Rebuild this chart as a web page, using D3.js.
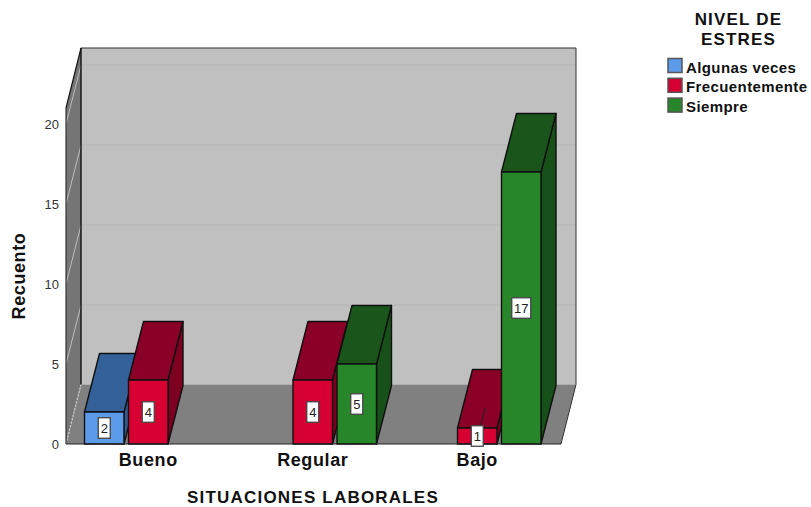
<!DOCTYPE html>
<html>
<head>
<meta charset="utf-8">
<script src="https://cdn.jsdelivr.net/npm/d3@7/dist/d3.min.js"></script>
<style>
  html, body { margin: 0; padding: 0; background: #fff; }
  svg { display: block; font-family: "Liberation Sans", Arial, sans-serif; }
</style>
</head>
<body>
<svg id="chart" width="811" height="507"></svg>
<script>
const categories = ["Bueno", "Regular", "Bajo"];
const seriesNames = ["Algunas veces", "Frecuentemente", "Siempre"];
const algunasVeces = [2, null, null];
const frecuentemente = [4, 4, 1];
const siempre = [null, 5, 17];
const yTicks = [0, 5, 10, 15, 20];
const legendTitle = ["NIVEL DE", "ESTRES"];
const xTitle = "SITUACIONES LABORALES";
const yTitle = "Recuento";

const seriesValues = [algunasVeces, frecuentemente, siempre];
const palette = [
  { front: "#5b9bea", top: "#34619a", side: "#2f5a92" },
  { front: "#d70033", top: "#8a0026", side: "#7d0020" },
  { front: "#28862a", top: "#1a561b", side: "#175018" }
];

// Oblique projection: depth shifts every point right and up.
const depthX = 15, depthY = 59, barDepthY = 58.5;
const plotLeft = 66, plotRight = 561, floorY = 444, roofY = 48;
const floorBackY = floorY - depthY - 0.5;

const svg = d3.select("#chart");
const x = d3.scaleBand().domain(categories).range([66, 559.5]);
const y = d3.scaleLinear().domain([0, 20]).range([floorY, 124]);
const xInner = d3.scaleBand().domain(seriesNames).range([-66, 66]).paddingInner(0.09).paddingOuter(0.045);

const poly = pts => pts.map(p => p.join(",")).join(" ");

// Back wall, left wall and floor of the box.
svg.append("polygon")
  .attr("points", poly([[plotLeft + depthX, roofY], [plotRight + depthX, roofY], [plotRight + depthX, floorBackY], [plotLeft + depthX, floorBackY]]))
  .attr("fill", "#c0c0c0");
svg.append("polygon")
  .attr("points", poly([[plotLeft, roofY + depthY + 1], [plotLeft + depthX, roofY], [plotLeft + depthX, floorBackY], [plotLeft, floorY]]))
  .attr("fill", "#757575");
svg.append("polygon")
  .attr("points", poly([[plotLeft, floorY], [plotLeft + depthX, floorBackY], [plotRight + depthX, floorBackY], [plotRight, floorY]]))
  .attr("fill", "#808080");

// Gridlines across the back wall and down the left wall.
yTicks.slice(1).forEach(t => {
  const gy = y(t);
  svg.append("line")
    .attr("x1", plotLeft + depthX).attr("x2", plotRight + depthX)
    .attr("y1", gy - depthY).attr("y2", gy - depthY)
    .attr("stroke", "#b4b4b4").attr("stroke-width", 1);
  svg.append("line")
    .attr("x1", plotLeft).attr("x2", plotLeft + depthX)
    .attr("y1", gy).attr("y2", gy - depthY)
    .attr("stroke", "#bdbdbd").attr("stroke-width", 1);
});
svg.append("line")
  .attr("x1", plotLeft).attr("x2", plotLeft + depthX)
  .attr("y1", floorY).attr("y2", floorBackY)
  .attr("stroke", "#cfcfcf").attr("stroke-width", 1.2).attr("stroke-dasharray", "2,1.5");

// Box outline.
const frame = [
  { seg: [[plotLeft + depthX, roofY], [plotRight + depthX, roofY]], color: "#333", w: 1.2 },
  { seg: [[plotLeft + depthX, roofY], [plotLeft + depthX, floorBackY]], color: "#111", w: 1.4 },
  { seg: [[plotLeft, roofY + depthY + 1], [plotLeft + depthX, roofY]], color: "#111", w: 1.2 },
  { seg: [[plotRight + depthX, roofY], [plotRight + depthX, floorBackY]], color: "#333", w: 1 },
  { seg: [[plotRight + depthX, floorBackY], [plotRight, floorY]], color: "#333", w: 1 },
  { seg: [[plotLeft, roofY + depthY + 1], [plotLeft, floorY]], color: "#333", w: 1.2 }
];
frame.forEach(f => {
  svg.append("line")
    .attr("x1", f.seg[0][0]).attr("y1", f.seg[0][1])
    .attr("x2", f.seg[1][0]).attr("y2", f.seg[1][1])
    .attr("stroke", f.color).attr("stroke-width", f.w);
});

// Prisms, one per non-empty value, painted left to right.
const bars = [];
categories.forEach((c, ci) => {
  seriesNames.forEach((s, si) => {
    const v = seriesValues[si][ci];
    if (v !== null) bars.push({ c, s, si, v });
  });
});

const barW = 39.5;
const barG = svg.append("g").attr("stroke", "#101010").attr("stroke-width", 1.4).attr("stroke-linejoin", "round");
bars.forEach(d => {
  const cx = x(d.c) + x.bandwidth() / 2 + xInner(d.s) + xInner.bandwidth() / 2;
  const x0 = cx - barW / 2, x1 = cx + barW / 2, yt = y(d.v), yb = y(0);
  const col = palette[d.si];
  d.cx = cx; d.midY = (yt + yb) / 2;
  barG.append("polygon")
    .attr("points", poly([[x1, yt], [x1 + depthX, yt - barDepthY], [x1 + depthX, yb - barDepthY], [x1, yb]]))
    .attr("fill", col.side);
  barG.append("polygon")
    .attr("points", poly([[x0, yt], [x0 + depthX, yt - barDepthY], [x1 + depthX, yt - barDepthY], [x1, yt]]))
    .attr("fill", col.top);
  barG.append("rect")
    .attr("x", x0).attr("y", yt).attr("width", barW).attr("height", yb - yt)
    .attr("fill", col.front);
});

// Floor front edge over the prism bases.
svg.append("line")
  .attr("x1", plotLeft).attr("x2", plotRight).attr("y1", floorY).attr("y2", floorY)
  .attr("stroke", "#222").attr("stroke-width", 1.2);

// Value labels; the shortest bar's label also carries a leader.
bars.forEach(d => {
  if (d.v === 1) {
    svg.append("line")
      .attr("x1", d.cx + 8).attr("y1", y(d.v) - 20)
      .attr("x2", d.cx + 3).attr("y2", y(d.v) - 1)
      .attr("stroke", "#222").attr("stroke-width", 1);
  }
  const w = d.v >= 10 ? 19 : 12, h = 20.5;
  svg.append("rect")
    .attr("x", d.cx - w / 2).attr("y", d.midY - h / 2)
    .attr("width", w).attr("height", h)
    .attr("fill", "#fff").attr("stroke", "#444").attr("stroke-width", 1.3);
  svg.append("text")
    .attr("x", d.cx).attr("y", d.midY + 4.5)
    .attr("text-anchor", "middle").attr("font-size", 13).attr("fill", "#222")
    .text(d.v);
});

// Axes.
const yAxis = d3.axisLeft(y).tickValues(yTicks).tickSize(0).tickPadding(7);
const yG = svg.append("g").attr("transform", `translate(${plotLeft},0.5)`).call(yAxis);
yG.select(".domain").remove();
yG.selectAll("text").attr("font-size", 13).attr("fill", "#333").attr("font-family", "Liberation Sans");

const xAxis = d3.axisBottom(x).tickSize(0).tickPadding(9);
const xG = svg.append("g").attr("transform", `translate(0,${floorY})`).call(xAxis);
xG.select(".domain").remove();
xG.selectAll("text").attr("font-size", 18).attr("font-weight", 700).attr("letter-spacing", 0.6).attr("fill", "#111").attr("font-family", "Liberation Sans");

svg.append("text")
  .attr("x", 313).attr("y", 503.4)
  .attr("text-anchor", "middle").attr("font-size", 17).attr("font-weight", 700).attr("letter-spacing", 1.2).attr("fill", "#111")
  .text(xTitle);
svg.append("text")
  .attr("transform", "translate(25,276) rotate(-90)")
  .attr("text-anchor", "middle").attr("font-size", 18).attr("font-weight", 700).attr("letter-spacing", 0.6).attr("fill", "#111")
  .text(yTitle);

// Legend.
svg.selectAll("text.legend-title").data(legendTitle).join("text")
  .attr("class", "legend-title")
  .attr("x", 738.5).attr("y", (d, i) => 25 + i * 19.6)
  .attr("text-anchor", "middle").attr("font-size", 17).attr("font-weight", 700).attr("letter-spacing", 1.2).attr("fill", "#111")
  .text(d => d);

const legendRows = svg.selectAll("g.legend-row").data(seriesNames).join("g")
  .attr("class", "legend-row")
  .attr("transform", (d, i) => `translate(668,${58.5 + i * 19.8})`);
legendRows.append("rect")
  .attr("width", 14).attr("height", 14)
  .attr("fill", (d, i) => palette[i].front)
  .attr("stroke", "#555").attr("stroke-width", 1.5);
legendRows.append("text")
  .attr("x", 18).attr("y", 14)
  .attr("font-size", 15).attr("font-weight", 700).attr("letter-spacing", 0.4).attr("fill", "#111")
  .text(d => d);
</script>
</body>
</html>
